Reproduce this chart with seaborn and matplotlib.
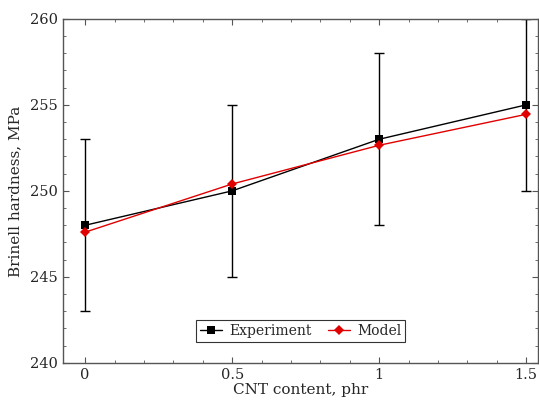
import numpy as np
import pandas as pd
import matplotlib
matplotlib.use("Agg")
import matplotlib.pyplot as plt
import seaborn as sns
from matplotlib.ticker import MultipleLocator

# ---------------- data ----------------
cnt = [0, 0.5, 1, 1.5]
experiment = [248, 250, 253, 255]
exp_err = [5, 5, 5, 5]
model = [247.6, 250.4, 252.65, 254.45]

df = pd.DataFrame({
    "cnt": cnt * 2,
    "hardness": experiment + model,
    "series": ["Experiment"] * 4 + ["Model"] * 4,
})

# ---------------- plot ----------------
sns.set_style("ticks")
plt.rcParams["font.family"] = ["DejaVu Serif"]

fig = plt.figure(figsize=(5.39, 4.01), dpi=100)
ax = fig.add_axes([0.117, 0.095, 0.881, 0.858])

ax.errorbar(cnt, experiment, yerr=exp_err, fmt="none", ecolor="black",
            elinewidth=1, capsize=3.5, capthick=1, zorder=1)

sns.lineplot(data=df, x="cnt", y="hardness", hue="series", style="series",
             palette={"Experiment": "black", "Model": "#e00000"},
             markers={"Experiment": "s", "Model": "D"},
             dashes=False, markersize=5.5, linewidth=1, markeredgewidth=0,
             ax=ax, zorder=3)

ax.set_xlim(-0.075, 1.54)
ax.set_ylim(240, 260)
ax.set_xticks([0, 0.5, 1, 1.5])
ax.set_xticklabels(["0", "0.5", "1", "1.5"])
ax.set_yticks([240, 245, 250, 255, 260])
ax.xaxis.set_minor_locator(MultipleLocator(0.1))
ax.yaxis.set_minor_locator(MultipleLocator(1))
ax.tick_params(which="both", direction="in", top=True, right=True,
               labelsize=10.5, color="#555555")
ax.tick_params(which="major", length=4)
ax.tick_params(which="minor", length=2)
for s in ax.spines.values():
    s.set_color("#555555")
    s.set_linewidth(1)

ax.set_xlabel("CNT content, phr", fontsize=11, labelpad=1)
ax.set_ylabel("Brinell hardness, MPa", fontsize=11, labelpad=6)

leg = ax.legend(loc="lower center", bbox_to_anchor=(0.5, 0.04), ncol=2,
                fontsize=10, frameon=True, fancybox=False, edgecolor="black",
                handlelength=1.6, columnspacing=1.2, borderpad=0.3,
                handletextpad=0.5)
leg.get_frame().set_linewidth(0.8)

fig.savefig("out.png", dpi=100)
